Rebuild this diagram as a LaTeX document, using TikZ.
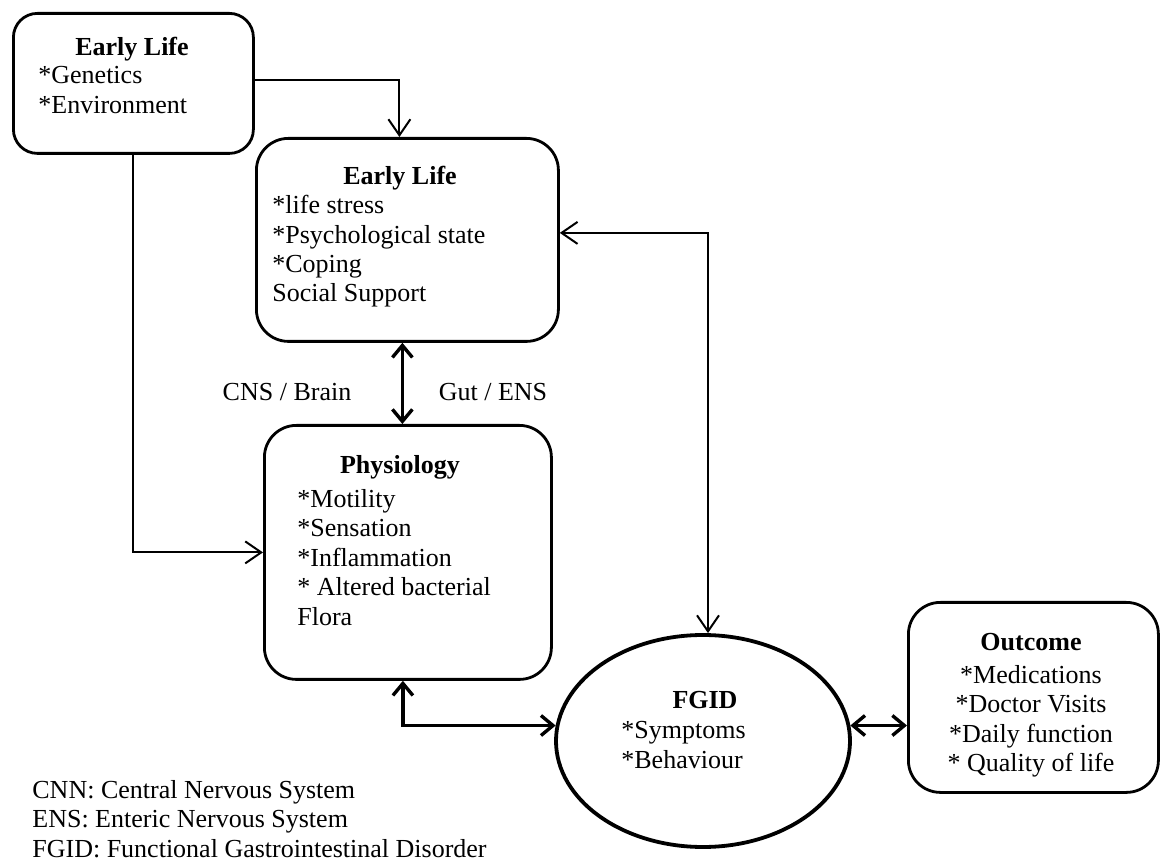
\documentclass[tikz,border=0pt]{standalone}
\usepackage{fontspec}
\setmainfont{Liberation Serif}
\usetikzlibrary{positioning,arrows.meta,shapes.geometric}

\tikzset{
    box/.style={draw, line width=1.4pt, rounded corners=16pt, anchor=north west, inner sep=0pt},
    txt/.style={font=\fontsize{13}{14.7}\selectfont, inner sep=0pt, align=left},
    head/.style={txt, font=\fontsize{13}{14.7}\selectfont\bfseries},
    link/.style={line width=1pt, -{Straight Barb[length=8pt,width=11pt]}},
    twolink/.style={line width=1pt, {Straight Barb[length=8pt,width=11pt]}-{Straight Barb[length=8pt,width=11pt]}},
    biglink/.style={line width=1.7pt, {Straight Barb[length=6pt,width=10pt]}-{Straight Barb[length=6pt,width=10pt]}},
}

\begin{document}
\begin{tikzpicture}[x=0.5pt, y=-0.5pt]
    \useasboundingbox (0,0) rectangle (1162,865);

    % boxes
    \node[box, minimum width=120pt, minimum height=70pt, rounded corners=12pt] (genes) at (12,12) {};
    \node[box, minimum width=151pt, minimum height=101.5pt] (stress) at (255,137) {};
    \node[box, minimum width=143.5pt, minimum height=127pt] (physio) at (263,424) {};
    \node[box, minimum width=125pt, minimum height=95pt] (outcome) at (907,601) {};
    \node[draw, ellipse, line width=1.9pt, minimum width=147pt, minimum height=106pt, inner sep=0pt] (fgid) at (703,741) {};

    % texts
    \node[head] (genesT) at (132,49) {Early Life};
    \node[txt, anchor=north west] (genesL) at (38,66) {*Genetics\\*Environment};

    \node[head] (stressT) at (400,178) {Early Life};
    \node[txt, anchor=north west] (stressL) at (272,195) {*life stress\\*Psychological state\\*Coping\\Social Support};

    \node[head] (physioT) at (400,467) {Physiology};
    \node[txt, anchor=north west] (physioL) at (297,489) {*Motility\\*Sensation\\*Inflammation\\* Altered bacterial\\Flora};

    \node[head] (fgidT) at (705,700) {FGID};
    \node[txt, anchor=north west] (fgidL) at (621,721) {*Symptoms\\*Behaviour};

    \node[head] (outcomeT) at (1031,642) {Outcome};
    \node[txt, align=center, anchor=north] (outcomeL) at (1031,665) {*Medications\\*Doctor Visits\\*Daily function\\* Quality of life};

    \node[txt, anchor=base] (cns) at (287,401) {CNS / Brain};
    \node[txt, anchor=base] (gut) at (493,401) {Gut / ENS};

    \node[txt, anchor=north west] (legend) at (32,780) {CNN: Central Nervous System\\ENS: Enteric Nervous System\\FGID: Functional Gastrointestinal Disorder};

    % connectors
    \draw[link] ([yshift=1.5pt]genes.east) -| ([xshift=-4pt]stress.north);
    \draw[link] (genes.south) |- (physio.west);
    \draw[biglink] ([xshift=-2.5pt]stress.south) -- ([xshift=-2.5pt]stress.south |- physio.north);
    \draw[twolink] ([yshift=3.5pt]stress.east) -| ([xshift=2.5pt]fgid.north);
    \draw[biglink] ([xshift=-2.5pt]physio.south) |- (fgid.174);
    \draw[biglink] (fgid.6) -- (fgid.6 -| outcome.west);
\end{tikzpicture}
\end{document}
